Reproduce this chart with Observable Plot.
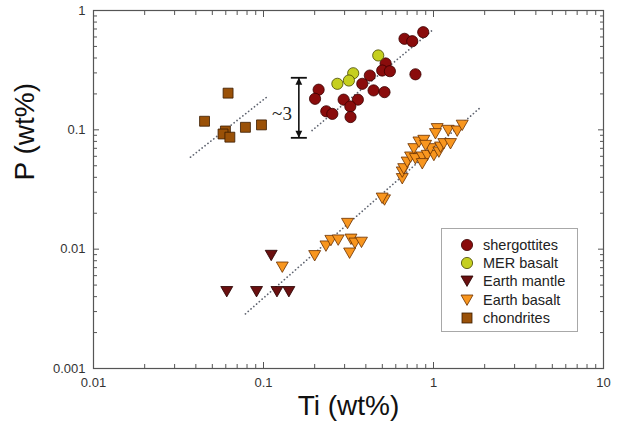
<!DOCTYPE html>
<html>
<head>
<meta charset="utf-8">
<script src="https://cdn.jsdelivr.net/npm/d3@7"></script>
<script src="https://cdn.jsdelivr.net/npm/@observablehq/plot@0.6"></script>
<style>
  body { margin: 0; background: #fff; font-family: "Liberation Sans", Arial, sans-serif; }
  #wrap { position: relative; width: 621px; height: 435px; }
  #legend { position: absolute; left: 441px; top: 228px; width: 137px; height: 104px;
            border: 1px solid #a8a8a8; box-sizing: border-box; background: #fff; }
  .row { position: absolute; left: 0; height: 16px; width: 135px; }
  .row svg { position: absolute; left: 17px; top: 0; }
  .row span { position: absolute; left: 41px; top: 0; line-height: 16px; font-size: 14.5px; color: #222; white-space: nowrap; }
</style>
</head>
<body>
<div id="wrap"><div id="chart"></div><div id="legend"></div></div>
<script>
// ---- data ----
const shergottitesTi = [0.87, 0.675, 0.75, 0.523, 0.499, 0.554, 0.783, 0.422, 0.381, 0.444, 0.515, 0.211, 0.201, 0.296, 0.359, 0.324, 0.234, 0.254, 0.325];
const shergottitesP  = [0.658, 0.579, 0.553, 0.360, 0.314, 0.310, 0.292, 0.285, 0.243, 0.214, 0.207, 0.217, 0.182, 0.179, 0.179, 0.157, 0.143, 0.136, 0.128];

const merTi = [0.473, 0.337, 0.318, 0.272];
const merP  = [0.420, 0.298, 0.259, 0.243];

const mantleTi = [0.111, 0.0608, 0.0910, 0.120, 0.141];
const mantleP  = [0.00885, 0.0044, 0.0044, 0.0044, 0.0044];

const basaltTi = [0.129, 0.200, 0.233, 0.249, 0.275, 0.312, 0.327, 0.345, 0.377, 0.321,
                  0.515, 0.499, 0.655, 0.655, 0.668, 0.700, 0.733, 0.783, 0.859, 0.918, 1.005, 0.859, 0.766, 0.959,
                  1.075, 1.100, 1.150, 0.821, 0.877, 0.898, 1.259, 1.051, 1.027, 1.220, 1.378, 1.475];
const basaltP  = [0.00706, 0.0088, 0.0106, 0.0118, 0.0119, 0.0164, 0.0121, 0.0112, 0.0114, 0.00925,
                  0.0258, 0.0267, 0.0389, 0.0442, 0.0471, 0.0535, 0.0590, 0.0572, 0.0590, 0.0609, 0.0609, 0.0519, 0.0693, 0.0693,
                  0.0650, 0.0715, 0.0764, 0.0788, 0.0814, 0.0739, 0.0764, 0.102, 0.0926, 0.0987, 0.0974, 0.109];

const chondritesTi = [0.0619, 0.0450, 0.0783, 0.0973, 0.0597, 0.0578, 0.0634];
const chondritesP  = [0.203, 0.118, 0.105, 0.110, 0.0978, 0.0923, 0.0868];

// dotted trend lines (end points)
const chondriteTrendTi = [0.0372, 0.1074], chondriteTrendP = [0.059, 0.194];
const martianTrendTi   = [0.193, 1.005],   martianTrendP   = [0.0987, 0.700];
const earthTrendTi     = [0.0783, 1.888],  earthTrendP     = [0.00287, 0.154];

// "~3" offset bar
const offsetTi = [0.1614], offsetLowP = [0.0857], offsetHighP = [0.273];
const offsetLabel = ["~3"], offsetLabelTi = [0.1285], offsetLabelP = [0.137];

const xDecades = [0.01, 0.1, 1, 10];
const yDecades = [0.001, 0.01, 0.1, 1];
const xTickLabels = ["0.01", "0.1", "1", "10"];
const yTickLabels = ["0.001", "0.01", "0.1", "1"];

const seriesNames = ["shergottites", "MER basalt", "Earth mantle", "Earth basalt", "chondrites"];

// ---- helpers ----
const rows = (xs, ys) => xs.map((x, i) => ({ti: x, p: ys[i]}));
const minor = dec => dec.slice(0, -1).flatMap(d => [2,3,4,5,6,7,8,9].map(m => +(m * d).toPrecision(3)));

const downTriangle = {draw(ctx, size) {
  const k = Math.sqrt(size / Math.PI);
  ctx.moveTo(-1.15 * k, -1.0 * k); ctx.lineTo(1.15 * k, -1.0 * k); ctx.lineTo(0, 1.0 * k); ctx.closePath();
}};
const headUp = {draw(ctx) { ctx.moveTo(0, 0); ctx.lineTo(3.4, 7); ctx.lineTo(-3.4, 7); ctx.closePath(); }};
const headDown = {draw(ctx) { ctx.moveTo(0, 0); ctx.lineTo(3.4, -7); ctx.lineTo(-3.4, -7); ctx.closePath(); }};
const capBar = {draw(ctx) { ctx.moveTo(-8, 0); ctx.lineTo(8, 0); }};

const colors = {
  sherg: ["#8a0c0c", "#3a0000"],
  mer: ["#c5cf1f", "#454500"],
  mantle: ["#6a1010", "#250000"],
  basalt: ["#f8961f", "#6a3000"],
  chond: ["#9a5108", "#3a1c00"]
};

const dotted = {stroke: "#5f6470", strokeWidth: 1.7, strokeDasharray: "0.1,3.6", strokeLinecap: "round"};
const axisStroke = "#555";
const tickMarks = [];
for (const anchor of ["bottom", "top"]) {
  tickMarks.push(Plot.axisX(xDecades, {anchor, tickSize: -6, tickFormat: () => "", label: null, stroke: axisStroke}));
  tickMarks.push(Plot.axisX(minor(xDecades), {anchor, tickSize: -4, tickFormat: () => "", label: null, stroke: axisStroke}));
}
for (const anchor of ["left", "right"]) {
  tickMarks.push(Plot.axisY(yDecades, {anchor, tickSize: -6, tickFormat: () => "", label: null, stroke: axisStroke}));
  tickMarks.push(Plot.axisY(minor(yDecades), {anchor, tickSize: -4, tickFormat: () => "", label: null, stroke: axisStroke}));
}

const chart = Plot.plot({
  width: 621, height: 435,
  marginLeft: 93, marginRight: 18, marginTop: 10, marginBottom: 67,
  x: {type: "log", domain: [0.01, 10]},
  y: {type: "log", domain: [0.001, 1]},
  style: {fontFamily: "'Liberation Sans', Arial, sans-serif", fontSize: "13px", color: "#333", background: "#fff"},
  marks: [
    ...tickMarks,
    Plot.axisX(xDecades, {anchor: "bottom", tickSize: 0, tickPadding: 9, tickFormat: (d) => xTickLabels[xDecades.indexOf(d)], label: null, fontSize: 13}),
    Plot.axisY(yDecades, {anchor: "left", tickSize: 0, tickPadding: 8, tickFormat: (d) => yTickLabels[yDecades.indexOf(d)], label: null, fontSize: 13}),
    Plot.frame({stroke: axisStroke, strokeWidth: 1.2}),
    Plot.text(["Ti (wt%)"], {frameAnchor: "bottom", dy: 46, fontSize: 28, fill: "#111"}),
    Plot.text(["P (wt%)"], {frameAnchor: "left", rotate: -90, dx: -68, dy: -9, fontSize: 28, fill: "#111"}),
    // trend lines
    Plot.line(rows(chondriteTrendTi, chondriteTrendP), {x: "ti", y: "p", ...dotted}),
    Plot.line(rows(martianTrendTi, martianTrendP), {x: "ti", y: "p", ...dotted}),
    Plot.line(rows(earthTrendTi, earthTrendP), {x: "ti", y: "p", ...dotted}),
    // offset bar
    Plot.link(offsetTi.map((t, i) => ({ti: t, lo: offsetLowP[i], hi: offsetHighP[i]})), {x1: "ti", x2: "ti", y1: "lo", y2: "hi", stroke: "#111", strokeWidth: 1.6}),
    Plot.dot(rows(offsetTi, offsetHighP), {x: "ti", y: "p", symbol: capBar, stroke: "#111", strokeWidth: 1.8}),
    Plot.dot(rows(offsetTi, offsetLowP), {x: "ti", y: "p", symbol: capBar, stroke: "#111", strokeWidth: 1.8}),
    Plot.dot(rows(offsetTi, offsetHighP), {x: "ti", y: "p", symbol: headUp, fill: "#111", stroke: "none"}),
    Plot.dot(rows(offsetTi, offsetLowP), {x: "ti", y: "p", symbol: headDown, fill: "#111", stroke: "none"}),
    Plot.text(offsetLabel.map((s, i) => ({s, ti: offsetLabelTi[i], p: offsetLabelP[i]})), {x: "ti", y: "p", text: "s", fontFamily: "'Liberation Serif', 'Times New Roman', serif", fontSize: 19, fill: "#222"}),
    // data
    Plot.dot(rows(chondritesTi, chondritesP), {x: "ti", y: "p", symbol: "square", r: 5.6, fill: colors.chond[0], stroke: colors.chond[1], strokeWidth: 0.8}),
    Plot.dot(rows(mantleTi, mantleP), {x: "ti", y: "p", symbol: downTriangle, r: 5.2, fill: colors.mantle[0], stroke: colors.mantle[1], strokeWidth: 0.8}),
    Plot.dot(rows(basaltTi, basaltP), {x: "ti", y: "p", symbol: downTriangle, r: 5.2, fill: colors.basalt[0], stroke: colors.basalt[1], strokeWidth: 0.8}),
    Plot.dot(rows(shergottitesTi, shergottitesP), {x: "ti", y: "p", r: 5.6, fill: colors.sherg[0], stroke: colors.sherg[1], strokeWidth: 0.8}),
    Plot.dot(rows(merTi, merP), {x: "ti", y: "p", r: 5.6, fill: colors.mer[0], stroke: colors.mer[1], strokeWidth: 0.8})
  ]
});
document.getElementById("chart").appendChild(chart);

// legend
const shapes = [
  c => `<circle cx="8" cy="8" r="5.6" fill="${c[0]}" stroke="${c[1]}" stroke-width="0.8"/>`,
  c => `<circle cx="8" cy="8" r="5.6" fill="${c[0]}" stroke="${c[1]}" stroke-width="0.8"/>`,
  c => `<path d="M2,3 L14,3 L8,13.4 Z" fill="${c[0]}" stroke="${c[1]}" stroke-width="0.8"/>`,
  c => `<path d="M2,3 L14,3 L8,13.4 Z" fill="${c[0]}" stroke="${c[1]}" stroke-width="0.8"/>`,
  c => `<rect x="3" y="3" width="10" height="10" fill="${c[0]}" stroke="${c[1]}" stroke-width="0.8"/>`
];
const legendColors = [colors.sherg, colors.mer, colors.mantle, colors.basalt, colors.chond];
const legend = document.getElementById("legend");
seriesNames.forEach((name, i) => {
  const row = document.createElement("div");
  row.className = "row";
  row.style.top = (8 + i * 18.2) + "px";
  row.innerHTML = `<svg width="16" height="16">${shapes[i](legendColors[i])}</svg><span>${name}</span>`;
  legend.appendChild(row);
});
</script>
</body>
</html>
